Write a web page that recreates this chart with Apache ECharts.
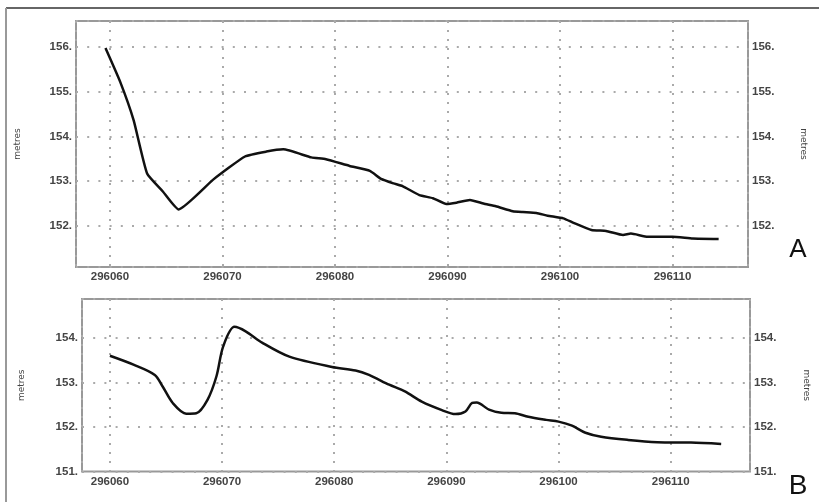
<!DOCTYPE html>
<html>
<head>
<meta charset="utf-8">
<script src="https://cdn.jsdelivr.net/npm/echarts@6/dist/echarts.min.js"></script>
<style>
  html, body { margin: 0; padding: 0; background: #fff; }
  #chart { width: 819px; height: 504px; }
</style>
</head>
<body>
<div id="chart"></div>
<script>
// profile A
const distanceA = [296059.6, 296060.9, 296062.1, 296063.3, 296064.7, 296066.1, 296069.2, 296072.0, 296073.9, 296075.4,
  296077.9, 296079.2, 296081.3, 296083.1, 296084.1, 296085.2, 296086.0, 296087.5, 296088.7, 296089.9,
  296090.8, 296092.0, 296093.2, 296094.3, 296095.8, 296096.7, 296097.9, 296098.9, 296100.3, 296101.2,
  296102.8, 296104.1, 296105.6, 296106.3, 296107.8, 296110.0, 296111.8, 296114.1]
const elevationA = [155.97, 155.22, 154.36, 153.17, 152.77, 152.37, 153.04, 153.55, 153.66, 153.71,
  153.53, 153.49, 153.34, 153.23, 153.05, 152.95, 152.89, 152.69, 152.62, 152.49,
  152.52, 152.58, 152.50, 152.44, 152.33, 152.31, 152.29, 152.23, 152.17, 152.07,
  151.91, 151.89, 151.80, 151.83, 151.76, 151.76, 151.72, 151.71]

// profile B
const distanceB = [296060.0, 296062.1, 296064.0, 296064.7, 296065.6, 296066.8, 296067.7, 296068.7, 296069.5, 296070.1,
  296071.1, 296072.1, 296073.6, 296076.0, 296079.8, 296081.9, 296083.1, 296084.9, 296086.3, 296087.8,
  296089.6, 296090.8, 296091.7, 296092.3, 296092.7, 296093.8, 296094.9, 296096.1, 296097.3, 296098.9,
  296100.0, 296101.2, 296102.4, 296103.8, 296106.2, 296108.8, 296111.8, 296114.5]
const elevationB = [153.60, 153.40, 153.17, 152.91, 152.54, 152.30, 152.31, 152.61, 153.14, 153.81,
  154.25, 154.15, 153.89, 153.58, 153.35, 153.27, 153.17, 152.95, 152.80, 152.57,
  152.38, 152.29, 152.35, 152.54, 152.55, 152.39, 152.32, 152.31, 152.23, 152.16,
  152.12, 152.03, 151.87, 151.78, 151.71, 151.66, 151.65, 151.62]

const panelLetters = ['A', 'B']
const axisName = 'metres'

const labelFont = { color: '#444', fontSize: 11.5, fontWeight: 'bold', fontFamily: 'Liberation Sans' }
const dotColor = '#aaa'

function pairs(xs, ys) {
  return xs.map((x, i) => [x, ys[i]])
}

function xAxisFor(gridIndex, min, max) {
  return {
    type: 'value', gridIndex: gridIndex, min: min, max: max,
    minInterval: 10, maxInterval: 10,
    axisLine: { show: false }, axisTick: { show: false },
    axisLabel: Object.assign({ margin: 4, showMinLabel: false, showMaxLabel: false,
      formatter: v => Math.abs(v % 10) < 1e-6 ? String(v) : '' }, labelFont),
    splitLine: { show: true, lineStyle: { color: dotColor, width: 2, type: [2, 7] } }
  }
}

function yFormatter(v) {
  return Math.abs(v - Math.round(v)) < 1e-6 ? Math.round(v) + '.' : ''
}

function yAxisFor(gridIndex, min, max, pos, gap) {
  return {
    type: 'value', gridIndex: gridIndex, min: min, max: max, position: pos,
    minInterval: 1, maxInterval: 1,
    name: axisName, nameLocation: 'middle', nameGap: gap, nameRotate: pos === 'left' ? 90 : -90,
    nameTextStyle: { color: '#444', fontSize: 9, fontFamily: 'DejaVu Sans' },
    axisLine: { show: false }, axisTick: { show: false },
    axisLabel: Object.assign({ margin: 4, showMinLabel: true, showMaxLabel: true, formatter: yFormatter }, labelFont),
    splitLine: { show: pos === 'left', lineStyle: { color: dotColor, width: 2, type: [2, 9.2] } }
  }
}

const chart = echarts.init(document.getElementById('chart'))
const option = {
  backgroundColor: '#fff',
  animation: false,
  grid: [
    { left: 76, top: 21, width: 672, height: 246, show: true, borderColor: '#999', borderWidth: 2 },
    { left: 82, top: 299, width: 670, height: 172.5, show: true, borderColor: '#999', borderWidth: 2 }
  ],
  xAxis: [
    xAxisFor(0, 296056.98, 296116.71),
    xAxisFor(1, 296057.51, 296117.07)
  ],
  yAxis: [
    yAxisFor(0, 151.085, 156.573, 'left', 54),
    yAxisFor(0, 151.085, 156.573, 'right', 51),
    yAxisFor(1, 151, 154.876, 'left', 56),
    yAxisFor(1, 151, 154.876, 'right', 52)
  ],
  graphic: [
    { type: 'line', shape: { x1: 6, y1: 8, x2: 819, y2: 8 }, style: { stroke: '#666', lineWidth: 2 } },
    { type: 'line', shape: { x1: 6, y1: 8, x2: 6, y2: 502 }, style: { stroke: '#999', lineWidth: 2 } },
    { type: 'text', x: 798, y: 250, style: { text: panelLetters[0], fill: '#111', fontSize: 26,
      fontFamily: 'Liberation Sans', align: 'center', verticalAlign: 'middle' } },
    { type: 'text', x: 798, y: 486, style: { text: panelLetters[1], fill: '#111', fontSize: 28,
      fontFamily: 'Liberation Sans', align: 'center', verticalAlign: 'middle' } }
  ],
  series: [
    { type: 'line', xAxisIndex: 0, yAxisIndex: 0, data: pairs(distanceA, elevationA),
      smooth: 0.15, showSymbol: false, lineStyle: { color: '#111', width: 2.5 } },
    { type: 'line', xAxisIndex: 1, yAxisIndex: 2, data: pairs(distanceB, elevationB),
      smooth: 0.3, showSymbol: false, lineStyle: { color: '#111', width: 2.5 } }
  ]
}
chart.setOption(option)
window.addEventListener('resize', function() {
  chart.resize()
})
</script>
</body>
</html>
